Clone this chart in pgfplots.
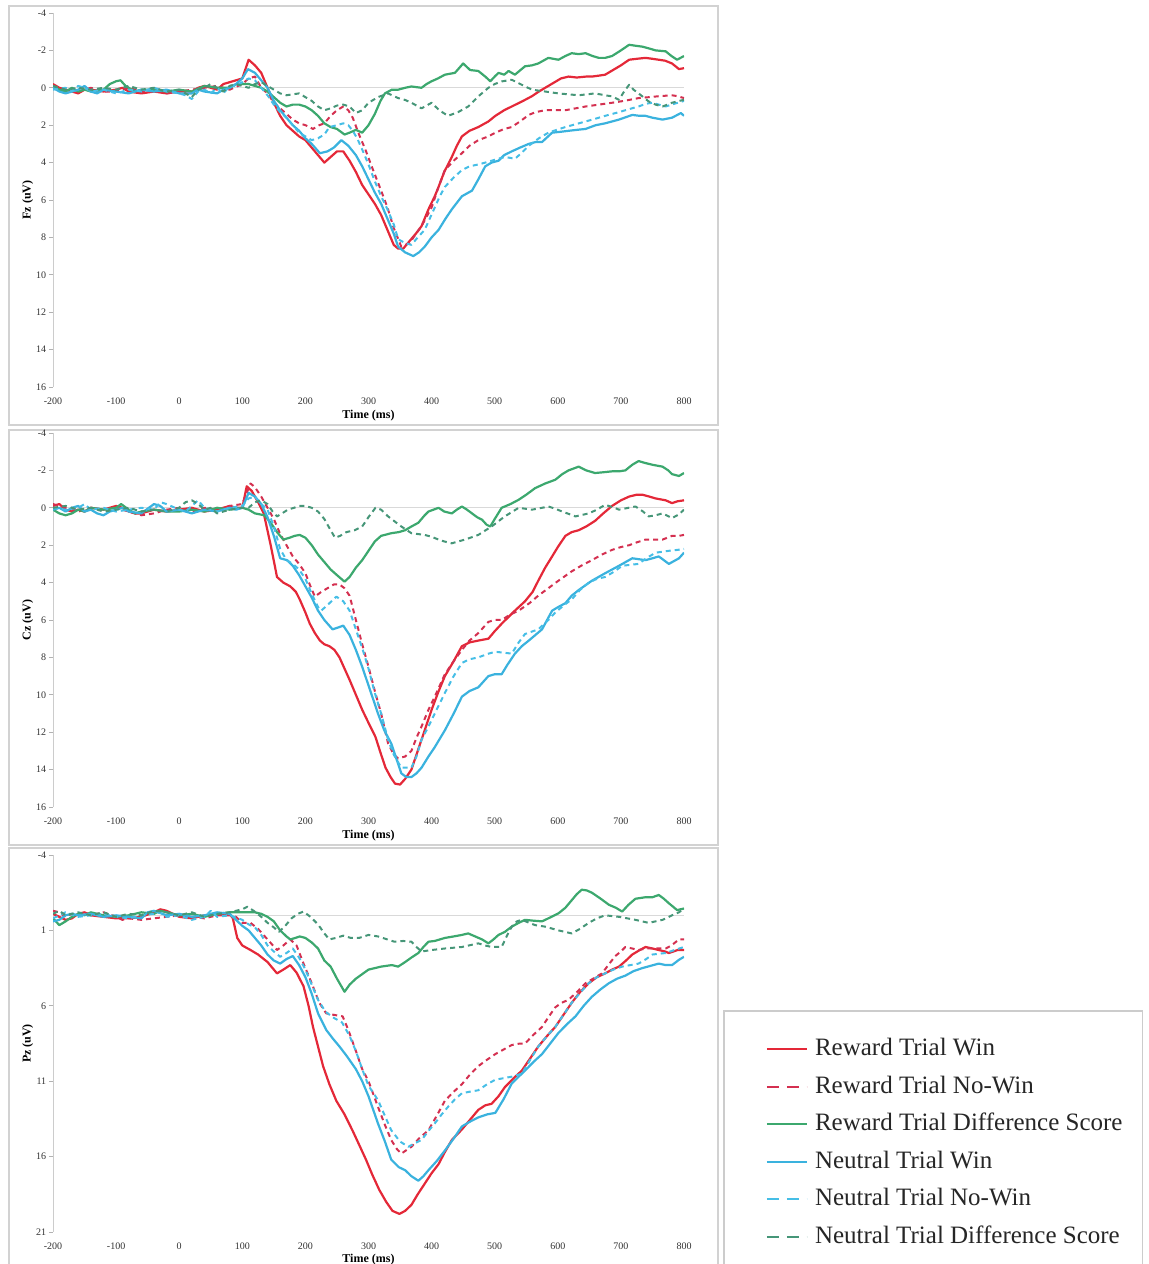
\documentclass[border=0pt]{standalone}
\usepackage{fontspec}
\setmainfont{Liberation Serif}
\usepackage{pgfplots}
\pgfplotsset{compat=1.18}
\definecolor{cRW}{RGB}{228,40,56}
\definecolor{cRNW}{RGB}{212,48,80}
\definecolor{cRD}{RGB}{60,168,110}
\definecolor{cNW}{RGB}{58,178,222}
\definecolor{cNNW}{RGB}{70,190,230}
\definecolor{cND}{RGB}{70,150,120}
\pgfplotsset{
  erp/.style={
    scale only axis, width=315.5pt,
    xmin=-200, xmax=800, xtick={-200,-100,...,800},
    y dir=reverse,
    axis line style={draw=none},
    tick align=outside,
    ytick pos=left,
    x tick style={draw=none},
    y tick style={gray!60, line width=0.4pt},
    major tick length=2pt,
    tick label style={font=\fontsize{5}{6}\selectfont, text=black!80},
    yticklabel style={inner sep=1.2pt},
    /pgf/number format/assume math mode=true,
    xlabel={Time (ms)},
    xlabel style={font=\bfseries\fontsize{6}{7}\selectfont, anchor=center},
    ylabel style={font=\bfseries\fontsize{6}{7}\selectfont, at={(axis description cs:-0.04,0.5)}, anchor=center},
    every axis plot/.append style={line join=round},
  },
  dashleg/.style={legend image post style={dash pattern=on 6pt off 4pt}},
  sRW/.style={cRW, line width=1.1pt},
  sRNW/.style={cRNW, line width=1pt, dash pattern=on 2.5pt off 2pt, dashleg},
  sRD/.style={cRD, line width=1.1pt},
  sNW/.style={cNW, line width=1.1pt},
  sNNW/.style={cNNW, line width=1pt, dash pattern=on 2.5pt off 2pt, dashleg},
  sND/.style={cND, line width=1pt, dash pattern=on 2.5pt off 2pt, dashleg},
}
\begin{document}
\begin{tikzpicture}[x=1pt,y=1pt]
\path[use as bounding box] (0,0) rectangle (574,632);
\draw[gray!35, line width=1pt] (4.5,629) rectangle (359,419.5);
\draw[gray!35, line width=1pt] (4.5,417) rectangle (359,209.5);
\draw[gray!35, line width=1pt] (4.5,208) rectangle (359,-3);

% ---------------- Fz ----------------
\begin{axis}[erp, at={(26.5pt,438.5pt)}, anchor=south west, height=187pt,
  ymin=-4, ymax=16, ytick={-4,-2,...,16}, ylabel={Fz (uV)},
  xlabel style={at={(axis description cs:0.5,-0.0775)}}]
\addplot[gray!30, line width=0.6pt, forget plot] coordinates {(-200,0)(800,0)};
\draw[gray!40, line width=0.5pt] (axis cs:-200,-4) -- (axis cs:-200,16);
\addplot[sRW] coordinates {(-200,-0.2)(-190,0.0)(-180,0.1)(-170,0.2)(-160,0.3)(-150,0.1)(-140,0.1)(-120,0.2)(-100,0.1)(-90,0.0)(-80,0.2)(-60,0.3)(-40,0.2)(-20,0.3)(0,0.2)(20,0.2)(30,0.0)(40,-0.1)(50,0.0)(60,0.1)(70,-0.2)(80,-0.3)(90,-0.4)(100,-0.5)(105,-1.0)(110,-1.5)(120,-1.2)(130,-0.8)(140,0.0)(150,0.8)(160,1.5)(170,2.0)(180,2.3)(190,2.6)(200,2.8)(210,3.2)(220,3.6)(230,4.0)(240,3.7)(250,3.4)(260,3.4)(270,3.9)(280,4.5)(290,5.2)(300,5.7)(310,6.2)(320,6.8)(330,7.6)(340,8.4)(347,8.6)(355,8.6)(365,8.2)(375,7.8)(384,7.4)(395,6.5)(405,5.8)(411,5.3)(420,4.5)(432,3.7)(440,3.1)(448,2.6)(460,2.3)(474,2.1)(490,1.8)(501,1.5)(515,1.2)(527,1.0)(545,0.7)(559,0.45)(570,0.2)(580,0.0)(595,-0.3)(605,-0.5)(617,-0.6)(630,-0.55)(645,-0.6)(654,-0.6)(665,-0.65)(675,-0.7)(690,-1.0)(700,-1.2)(713,-1.5)(725,-1.55)(739,-1.6)(750,-1.55)(760,-1.5)(770,-1.45)(781,-1.3)(792,-1.0)(800,-1.05)};
\addplot[sRNW] coordinates {(-200,-0.1)(-180,0.1)(-160,0.2)(-140,0.0)(-120,0.2)(-100,0.2)(-80,0.0)(-60,0.2)(-40,0.1)(-20,0.3)(0,0.2)(20,0.1)(40,0.0)(60,-0.1)(80,0.1)(100,-0.2)(110,-0.5)(120,-0.6)(130,0.0)(140,0.3)(150,0.8)(160,1.1)(170,1.4)(180,1.7)(190,1.9)(200,2.0)(212,2.2)(222,2.0)(230,1.9)(240,1.5)(250,1.2)(260,1.0)(268,1.2)(275,1.6)(285,2.5)(295,3.3)(305,4.2)(320,5.5)(330,6.4)(340,7.5)(352,8.5)(365,8.3)(384,7.4)(400,6.4)(410,5.4)(421,4.4)(435,3.9)(448,3.5)(460,3.1)(474,2.8)(490,2.6)(501,2.4)(515,2.2)(527,2.1)(540,1.8)(554,1.45)(565,1.3)(580,1.2)(595,1.2)(612,1.2)(628,1.1)(644,1.0)(665,0.9)(686,0.8)(705,0.7)(728,0.55)(745,0.5)(760,0.45)(781,0.4)(790,0.45)(800,0.55)};
\addplot[sRD] coordinates {(-200,-0.1)(-190,0.1)(-180,0.2)(-170,0.0)(-160,0.2)(-150,0.1)(-140,0.2)(-120,0.1)(-110,-0.2)(-100,-0.35)(-93,-0.4)(-85,-0.1)(-70,0.2)(-60,0.1)(-40,0.1)(-20,0.2)(0,0.1)(20,0.2)(40,-0.1)(60,0.0)(80,0.0)(90,-0.2)(100,-0.2)(110,-0.2)(120,-0.1)(130,0.0)(140,0.2)(150,0.5)(160,0.8)(170,1.0)(180,0.9)(190,0.9)(200,1.0)(210,1.2)(220,1.5)(230,1.9)(240,2.1)(250,2.2)(262,2.5)(270,2.4)(280,2.25)(290,2.4)(300,2.0)(310,1.4)(319,0.7)(326,0.3)(337,0.1)(347,0.1)(358,0.0)(368,-0.07)(384,0.0)(392,-0.2)(400,-0.35)(410,-0.5)(421,-0.7)(437,-0.8)(450,-1.3)(461,-0.95)(474,-0.9)(485,-0.6)(493,-0.35)(500,-0.6)(506,-0.8)(515,-0.7)(522,-0.9)(532,-0.7)(548,-1.15)(559,-1.2)(569,-1.3)(585,-1.6)(601,-1.5)(612,-1.7)(622,-1.85)(633,-1.8)(644,-1.85)(655,-1.7)(665,-1.6)(675,-1.6)(686,-1.7)(700,-2.0)(713,-2.3)(723,-2.25)(734,-2.2)(745,-2.1)(755,-2.0)(771,-1.95)(780,-1.7)(789,-1.5)(800,-1.7)};
\addplot[sNW] coordinates {(-200,0.0)(-190,0.2)(-180,0.3)(-170,0.2)(-160,0.1)(-150,-0.1)(-140,0.2)(-130,0.3)(-120,0.1)(-100,0.2)(-80,0.3)(-60,0.1)(-40,0.2)(-20,0.1)(0,0.3)(20,0.3)(30,0.1)(40,0.2)(60,0.3)(70,0.1)(80,0.0)(90,-0.2)(100,-0.5)(109,-1.0)(120,-0.8)(130,-0.4)(140,0.0)(150,0.7)(160,1.2)(170,1.6)(180,2.0)(190,2.3)(200,2.7)(210,3.0)(223,3.5)(235,3.4)(245,3.2)(257,2.8)(268,3.1)(280,3.6)(290,4.2)(300,4.9)(310,5.6)(320,6.2)(330,7.0)(340,7.8)(347,8.5)(358,8.8)(371,9.0)(380,8.8)(389,8.5)(400,8.0)(411,7.6)(422,7.0)(432,6.5)(448,5.8)(464,5.5)(474,4.9)(485,4.2)(495,4.0)(506,3.9)(515,3.6)(527,3.4)(540,3.2)(554,3.0)(565,2.9)(575,2.9)(591,2.4)(605,2.35)(617,2.3)(630,2.25)(644,2.2)(660,2.0)(675,1.9)(697,1.7)(718,1.45)(730,1.5)(739,1.5)(750,1.6)(766,1.7)(781,1.6)(795,1.35)(800,1.5)};
\addplot[sNNW] coordinates {(-200,0.1)(-180,0.0)(-170,0.2)(-160,-0.1)(-150,0.0)(-140,0.2)(-120,0.1)(-100,0.3)(-80,0.1)(-60,0.2)(-40,0.0)(-20,0.2)(0,0.3)(10,0.4)(20,0.6)(30,0.2)(40,0.1)(50,0.3)(60,0.0)(70,0.3)(80,-0.1)(90,-0.1)(100,-0.3)(110,-0.5)(120,-0.4)(130,0.0)(140,0.4)(150,0.9)(160,1.3)(170,1.6)(180,2.0)(190,2.4)(200,2.6)(210,2.8)(220,2.7)(230,2.5)(238,2.1)(250,2.0)(260,1.9)(268,2.0)(275,2.3)(282,2.7)(290,3.3)(300,4.1)(310,5.0)(320,5.8)(330,6.5)(340,7.3)(347,8.1)(358,8.3)(368,8.4)(378,8.0)(389,7.6)(397,7.0)(405,6.4)(413,5.8)(421,5.3)(435,4.8)(448,4.4)(460,4.2)(474,4.1)(485,4.0)(495,3.9)(505,3.8)(516,3.7)(525,3.75)(532,3.8)(542,3.5)(554,3.1)(570,2.7)(585,2.4)(598,2.25)(612,2.1)(628,1.95)(644,1.8)(660,1.65)(675,1.5)(697,1.3)(712,1.15)(728,1.0)(740,0.85)(750,0.8)(760,0.9)(771,1.0)(785,0.85)(800,0.7)};
\addplot[sND] coordinates {(-200,-0.1)(-180,0.1)(-160,0.0)(-140,0.1)(-120,0.0)(-100,0.1)(-80,-0.1)(-60,0.1)(-40,0.0)(-20,0.2)(0,0.1)(10,0.3)(20,0.5)(30,0.1)(40,0.0)(50,-0.2)(60,0.0)(70,0.2)(80,-0.1)(90,-0.2)(100,-0.1)(110,0.0)(120,-0.2)(130,-0.3)(140,-0.1)(150,0.1)(160,0.3)(170,0.4)(180,0.35)(190,0.3)(200,0.5)(210,0.7)(220,1.0)(230,1.2)(240,1.1)(250,0.95)(260,0.9)(270,1.0)(280,1.35)(290,1.2)(300,0.8)(315,0.5)(331,0.3)(347,0.55)(358,0.65)(368,0.8)(384,1.1)(400,0.8)(412,1.2)(426,1.5)(442,1.3)(458,1.0)(474,0.46)(490,0.0)(500,-0.2)(511,-0.34)(527,-0.43)(543,-0.16)(559,0.1)(580,0.2)(601,0.3)(617,0.35)(633,0.4)(659,0.3)(675,0.4)(686,0.46)(697,0.64)(705,0.2)(713,-0.16)(720,0.1)(728,0.3)(744,0.73)(755,0.9)(766,1.0)(781,0.8)(800,0.64)};
\end{axis}

% ---------------- Cz ----------------
\begin{axis}[erp, at={(26.5pt,228.5pt)}, anchor=south west, height=187pt,
  ymin=-4, ymax=16, ytick={-4,-2,...,16}, ylabel={Cz (uV)},
  xlabel style={at={(axis description cs:0.5,-0.0775)}}]
\addplot[gray!30, line width=0.6pt, forget plot] coordinates {(-200,0)(800,0)};
\draw[gray!40, line width=0.5pt] (axis cs:-200,-4) -- (axis cs:-200,16);
\addplot[sRW] coordinates {(-200,-0.1)(-190,-0.2)(-180,0.1)(-170,0.2)(-160,0.1)(-150,0.2)(-140,0.0)(-120,0.1)(-100,-0.1)(-90,0.0)(-80,0.2)(-70,0.3)(-60,0.3)(-50,0.2)(-40,0.1)(-20,0.2)(0,0.1)(20,0.0)(40,0.2)(60,0.1)(80,-0.1)(90,0.0)(100,0.0)(107,-1.15)(115,-0.9)(125,-0.3)(134,0.3)(145,2.0)(155,3.7)(165,4.0)(176,4.2)(185,4.5)(191,4.9)(200,5.6)(207,6.2)(215,6.7)(223,7.1)(230,7.3)(238,7.4)(246,7.6)(254,8.0)(262,8.6)(270,9.2)(280,10.0)(290,10.8)(300,11.5)(311,12.25)(320,13.2)(327,13.9)(335,14.4)(342,14.75)(350,14.8)(358,14.5)(368,14.0)(376,13.2)(384,12.4)(392,11.6)(400,10.8)(410,9.9)(421,9.0)(435,8.2)(448,7.4)(460,7.2)(474,7.1)(490,7.0)(500,6.6)(511,6.2)(520,5.9)(532,5.5)(548,5.0)(560,4.5)(569,3.9)(580,3.2)(591,2.6)(600,2.1)(612,1.5)(622,1.3)(633,1.2)(645,1.0)(659,0.7)(672,0.3)(686,-0.1)(700,-0.4)(713,-0.6)(725,-0.7)(734,-0.7)(745,-0.6)(755,-0.5)(771,-0.4)(781,-0.25)(790,-0.35)(800,-0.4)};
\addplot[sRNW] coordinates {(-200,-0.2)(-180,0.0)(-160,0.2)(-140,0.0)(-120,0.1)(-100,0.0)(-80,0.2)(-60,0.4)(-40,0.3)(-20,0.1)(0,0.0)(20,0.2)(40,0.0)(60,0.1)(80,-0.1)(100,-0.2)(113,-1.3)(120,-1.1)(130,-0.6)(140,0.0)(150,0.6)(160,1.4)(170,2.0)(180,2.6)(190,3.0)(200,3.5)(208,4.2)(215,4.75)(225,4.5)(235,4.3)(245,4.1)(254,4.1)(262,4.3)(270,4.7)(280,6.0)(290,7.3)(300,8.5)(310,9.8)(320,11.0)(331,12.6)(340,13.2)(347,13.4)(358,13.3)(368,13.0)(376,12.3)(384,11.7)(395,10.8)(405,10.1)(421,8.9)(435,8.2)(448,7.6)(460,7.1)(474,6.7)(490,6.1)(500,6.0)(511,6.0)(525,5.7)(538,5.5)(555,5.1)(569,4.7)(585,4.3)(601,3.9)(622,3.4)(637,3.1)(654,2.8)(670,2.5)(686,2.25)(700,2.1)(713,2.0)(725,1.85)(739,1.7)(750,1.7)(766,1.7)(781,1.5)(792,1.5)(800,1.45)};
\addplot[sRD] coordinates {(-200,0.1)(-190,0.3)(-180,0.4)(-170,0.3)(-160,0.1)(-150,0.2)(-140,0.0)(-120,0.1)(-100,0.0)(-92,-0.2)(-80,0.1)(-70,0.3)(-60,0.2)(-40,0.1)(-20,0.2)(0,0.2)(20,0.1)(40,0.2)(60,0.0)(80,0.1)(100,0.0)(110,0.1)(120,0.3)(135,0.4)(145,0.8)(155,1.3)(165,1.7)(175,1.6)(183,1.5)(191,1.45)(200,1.6)(210,2.0)(220,2.5)(230,2.9)(240,3.3)(250,3.6)(262,3.95)(270,3.7)(280,3.2)(290,2.8)(300,2.3)(310,1.8)(320,1.5)(336,1.36)(348,1.3)(358,1.2)(368,1.0)(379,0.8)(389,0.4)(395,0.2)(411,0.0)(420,0.2)(432,0.3)(440,0.1)(448,-0.07)(456,0.1)(464,0.3)(472,0.5)(480,0.64)(487,0.9)(493,1.0)(500,0.6)(511,0.0)(525,-0.2)(538,-0.43)(550,-0.7)(564,-1.05)(580,-1.3)(596,-1.5)(607,-1.8)(617,-2.0)(633,-2.2)(645,-2.0)(659,-1.86)(672,-1.9)(686,-1.95)(697,-1.95)(707,-2.0)(718,-2.3)(728,-2.5)(738,-2.4)(750,-2.3)(766,-2.2)(775,-2.0)(781,-1.8)(792,-1.7)(800,-1.86)};
\addplot[sNW] coordinates {(-200,0.1)(-190,0.0)(-180,0.2)(-170,0.0)(-160,-0.1)(-150,0.2)(-140,0.1)(-130,0.3)(-120,0.4)(-110,0.2)(-100,0.1)(-90,0.0)(-80,0.2)(-60,0.3)(-40,-0.2)(-30,-0.1)(-20,0.2)(0,0.1)(20,0.3)(40,0.1)(60,0.2)(80,0.0)(90,0.1)(100,0.0)(110,-0.8)(120,-0.6)(130,-0.2)(140,0.5)(150,1.5)(160,2.7)(171,2.8)(180,3.1)(190,3.6)(200,4.2)(210,4.8)(220,5.5)(230,6.0)(243,6.5)(252,6.4)(260,6.3)(270,6.8)(280,7.6)(290,8.5)(300,9.5)(315,11.0)(325,11.9)(336,12.6)(344,13.4)(352,14.2)(360,14.4)(368,14.4)(376,14.2)(384,13.9)(395,13.3)(405,12.8)(421,11.9)(435,11.0)(448,10.1)(460,9.8)(474,9.6)(490,9.0)(500,8.9)(511,8.9)(520,8.4)(532,7.8)(543,7.4)(554,7.1)(575,6.5)(591,5.5)(601,5.3)(612,5.1)(622,4.7)(633,4.4)(654,3.9)(675,3.5)(697,3.1)(718,2.7)(739,2.8)(750,2.7)(760,2.6)(776,3.0)(792,2.7)(800,2.4)};
\addplot[sNNW] coordinates {(-200,0.0)(-180,0.1)(-160,0.0)(-150,-0.2)(-140,0.1)(-120,0.0)(-100,0.2)(-80,0.1)(-60,0.0)(-40,0.1)(-30,-0.3)(-20,-0.2)(0,0.1)(10,0.2)(20,-0.1)(30,-0.4)(40,0.0)(60,0.2)(80,0.0)(100,-0.1)(110,-0.5)(120,-0.6)(130,-0.2)(140,0.1)(150,1.0)(160,2.2)(170,2.8)(180,3.0)(190,3.3)(200,3.8)(210,4.6)(220,5.3)(225,5.5)(235,5.2)(249,4.75)(260,5.0)(270,5.5)(280,6.5)(290,7.5)(300,8.6)(310,9.9)(320,11.0)(331,12.4)(340,13.2)(352,13.9)(368,13.9)(376,13.3)(384,12.4)(395,11.7)(405,11.0)(421,9.9)(435,9.0)(448,8.3)(460,8.1)(474,8.0)(490,7.8)(501,7.7)(515,7.75)(527,7.8)(538,7.2)(548,6.75)(569,6.5)(585,6.0)(596,5.6)(610,5.2)(622,4.9)(635,4.4)(649,4.0)(662,3.8)(675,3.7)(690,3.4)(702,3.1)(715,3.05)(728,3.0)(740,2.7)(755,2.4)(766,2.35)(776,2.3)(790,2.25)(800,2.2)};
\addplot[sND] coordinates {(-200,0.0)(-180,-0.1)(-160,0.1)(-140,0.0)(-120,0.2)(-100,0.1)(-80,0.0)(-60,0.2)(-40,0.1)(-20,0.2)(0,0.0)(10,-0.3)(20,-0.4)(30,-0.2)(40,0.1)(50,0.0)(60,0.3)(80,0.1)(100,0.0)(110,0.0)(120,-0.3)(130,-0.4)(140,-0.2)(148,0.2)(155,0.46)(163,0.3)(172,0.1)(182,0.0)(190,-0.1)(200,-0.1)(210,0.0)(220,0.2)(230,0.6)(240,1.2)(247,1.6)(255,1.5)(265,1.3)(278,1.2)(290,1.0)(300,0.5)(311,0.0)(320,0.1)(331,0.46)(352,1.0)(368,1.36)(389,1.45)(400,1.55)(411,1.7)(420,1.8)(432,1.9)(442,1.8)(453,1.7)(474,1.45)(495,1.0)(516,0.46)(538,0.0)(559,0.1)(575,0.0)(585,-0.07)(596,0.05)(607,0.2)(628,0.46)(649,0.3)(662,0.1)(675,-0.16)(690,0.0)(697,0.1)(712,0.0)(723,-0.07)(735,0.2)(744,0.46)(755,0.4)(766,0.3)(781,0.55)(792,0.35)(800,0.1)};
\end{axis}

% ---------------- Pz ----------------
\begin{axis}[erp, at={(26.5pt,16pt)}, anchor=south west, height=188.5pt,
  ymin=-4, ymax=21, ytick={-4,1,6,11,16,21}, ylabel={Pz (uV)},
  xlabel style={at={(axis description cs:0.5,-0.072)}},
  legend style={at={(axis description cs:1.0618,0.5889)}, anchor=north west,
    draw=gray!40, line width=0.8pt, fill=white,
    inner xsep=10pt, inner ysep=13.5pt,
    font=\fontsize{12.5}{14}\selectfont, text=black!85,
    nodes={inner sep=0pt, text height=9pt, text depth=2.5pt},
    row sep=7.25pt,
    /tikz/every odd column/.append style={column sep=3.5pt}},
  legend cell align=left,
  legend image code/.code={\path (0pt,0pt); \draw[#1] (11pt,0pt) -- (31pt,0pt);}]
\addplot[gray!30, line width=0.6pt, forget plot] coordinates {(-200,0)(800,0)};
\draw[gray!40, line width=0.5pt] (axis cs:-200,-4) -- (axis cs:-200,21);
\addplot[sRW] coordinates {(-200,-0.1)(-190,0.1)(-180,0.3)(-170,0.2)(-160,-0.1)(-150,-0.2)(-140,0.0)(-120,0.1)(-100,0.2)(-80,0.2)(-60,0.1)(-40,-0.2)(-30,-0.4)(-20,-0.3)(0,0.1)(20,0.2)(40,0.0)(60,-0.1)(80,-0.1)(85,0.2)(92,1.5)(100,2.0)(113,2.3)(125,2.6)(140,3.1)(155,3.85)(165,3.6)(176,3.3)(186,3.8)(197,4.7)(205,6.0)(212,7.4)(220,8.7)(228,10.0)(238,11.2)(249,12.3)(262,13.2)(275,14.3)(285,15.2)(296,16.2)(306,17.2)(317,18.2)(328,19.0)(338,19.6)(349,19.8)(358,19.6)(368,19.2)(378,18.5)(389,17.8)(400,17.1)(411,16.5)(421,15.7)(432,14.9)(448,14.2)(460,13.6)(474,12.9)(485,12.6)(495,12.5)(506,12.0)(516,11.4)(530,10.8)(543,10.3)(556,9.5)(569,8.7)(583,8.0)(596,7.4)(609,6.6)(622,5.8)(635,5.1)(649,4.5)(662,4.1)(675,3.85)(686,3.6)(697,3.4)(708,3.0)(718,2.6)(730,2.3)(739,2.1)(750,2.2)(760,2.3)(770,2.4)(776,2.5)(790,2.3)(800,2.3)};
\addlegendentry{Reward Trial Win}
\addplot[sRNW] coordinates {(-200,-0.3)(-190,-0.2)(-180,0.1)(-170,-0.1)(-160,0.0)(-150,-0.2)(-140,0.0)(-120,-0.2)(-100,0.1)(-90,0.3)(-80,0.2)(-60,0.3)(-40,0.2)(-20,0.1)(0,0.0)(20,0.1)(40,0.2)(60,0.0)(80,0.0)(90,0.1)(100,0.5)(113,0.5)(125,0.9)(140,1.6)(155,2.3)(165,2.0)(176,1.6)(186,2.0)(197,3.2)(210,4.5)(222,5.8)(233,6.5)(245,6.6)(259,6.7)(268,7.6)(280,9.0)(290,10.2)(300,11.0)(315,12.7)(326,13.9)(336,14.9)(345,15.5)(352,15.8)(368,15.35)(380,14.8)(395,14.25)(408,13.3)(421,12.3)(435,11.7)(448,11.2)(460,10.6)(474,10.0)(487,9.6)(501,9.2)(514,8.9)(527,8.6)(540,8.5)(548,8.5)(562,7.9)(575,7.4)(586,6.7)(596,6.1)(606,5.8)(617,5.6)(630,5.1)(644,4.5)(656,4.2)(670,3.85)(680,3.3)(691,2.7)(700,2.4)(707,2.1)(718,2.2)(728,2.3)(740,2.2)(750,2.2)(771,2.2)(780,2.0)(792,1.6)(800,1.6)};
\addlegendentry{Reward Trial No-Win}
\addplot[sRD] coordinates {(-200,0.2)(-190,0.65)(-180,0.4)(-170,0.1)(-160,-0.1)(-150,0.0)(-140,-0.2)(-120,0.0)(-100,0.1)(-80,0.0)(-60,-0.2)(-40,-0.1)(-30,-0.3)(-20,-0.2)(0,0.0)(20,-0.1)(40,0.1)(60,-0.1)(80,-0.2)(100,-0.2)(120,-0.2)(130,-0.1)(140,0.1)(150,0.4)(160,1.0)(170,1.4)(176,1.6)(184,1.5)(191,1.4)(200,1.5)(210,1.8)(220,2.2)(230,3.0)(240,3.4)(250,4.2)(262,5.07)(270,4.6)(280,4.2)(290,3.9)(300,3.6)(310,3.5)(320,3.4)(337,3.3)(347,3.4)(358,3.1)(368,2.8)(379,2.5)(387,2.1)(395,1.75)(405,1.7)(421,1.5)(435,1.4)(448,1.3)(458,1.2)(469,1.4)(480,1.6)(490,1.86)(498,1.6)(506,1.3)(516,1.1)(527,0.75)(538,0.5)(548,0.3)(560,0.35)(575,0.4)(590,0.1)(601,-0.13)(612,-0.5)(622,-1.0)(630,-1.4)(638,-1.7)(646,-1.65)(654,-1.5)(668,-1.1)(681,-0.7)(692,-0.5)(702,-0.25)(712,-0.7)(723,-1.1)(739,-1.2)(750,-1.2)(760,-1.35)(768,-1.1)(776,-0.8)(789,-0.35)(800,-0.45)};
\addlegendentry{Reward Trial Difference Score}
\addplot[sNW] coordinates {(-200,0.4)(-190,0.3)(-180,0.0)(-170,-0.1)(-160,0.0)(-140,-0.1)(-120,0.1)(-100,0.0)(-80,0.1)(-60,0.2)(-50,-0.2)(-40,-0.3)(-20,0.0)(0,-0.1)(20,0.1)(40,0.0)(60,-0.2)(80,-0.1)(90,0.3)(100,0.7)(110,1.0)(120,1.5)(130,2.0)(140,2.6)(150,3.0)(160,3.2)(170,2.9)(180,2.7)(190,3.3)(200,4.1)(210,5.2)(220,6.5)(233,7.6)(244,8.2)(254,8.7)(265,9.3)(280,10.2)(290,11.0)(300,12.0)(315,13.8)(326,15.0)(336,16.2)(348,16.7)(358,16.9)(368,17.3)(379,17.6)(387,17.3)(395,16.9)(408,16.3)(421,15.6)(435,14.8)(448,14.0)(460,13.7)(474,13.4)(488,13.2)(501,13.1)(514,12.2)(527,11.15)(538,10.7)(548,10.3)(562,9.7)(575,9.2)(588,8.5)(601,7.8)(615,7.2)(628,6.7)(641,6.0)(654,5.4)(668,4.9)(681,4.5)(694,4.2)(707,4.0)(720,3.7)(734,3.5)(747,3.35)(760,3.2)(771,3.3)(781,3.3)(792,2.95)(800,2.75)};
\addlegendentry{Neutral Trial Win}
\addplot[sNNW] coordinates {(-200,0.2)(-190,0.0)(-180,-0.2)(-160,0.1)(-140,0.0)(-120,-0.1)(-100,0.1)(-80,0.2)(-60,0.0)(-40,-0.1)(-30,-0.2)(-20,0.1)(0,0.0)(20,0.3)(40,0.1)(50,-0.3)(60,0.1)(80,0.0)(100,0.3)(110,0.6)(120,0.8)(130,1.3)(140,2.0)(150,2.4)(160,2.75)(170,2.5)(180,2.2)(190,2.8)(200,3.6)(210,4.6)(220,5.6)(232,6.4)(245,6.8)(258,7.1)(270,8.0)(280,9.0)(290,10.2)(300,11.3)(315,12.25)(326,13.3)(336,14.25)(350,15.0)(363,15.35)(374,15.1)(384,14.9)(395,14.3)(405,13.8)(416,13.2)(426,12.7)(437,12.2)(448,11.8)(460,11.7)(474,11.6)(488,11.2)(501,10.9)(514,10.8)(527,10.7)(543,10.5)(556,9.6)(569,8.7)(583,8.0)(596,7.4)(609,6.6)(622,5.8)(636,5.1)(649,4.5)(662,4.1)(675,3.85)(688,3.6)(702,3.4)(715,3.3)(728,3.2)(740,2.9)(750,2.6)(760,2.55)(771,2.5)(785,2.3)(800,2.1)};
\addlegendentry{Neutral Trial No-Win}
\addplot[sND] coordinates {(-200,-0.1)(-190,-0.3)(-180,0.0)(-160,-0.2)(-140,0.0)(-120,-0.2)(-100,0.1)(-80,-0.1)(-60,0.0)(-40,-0.3)(-20,-0.2)(0,0.0)(20,-0.2)(40,0.1)(60,-0.1)(80,-0.2)(90,-0.3)(100,-0.4)(108,-0.57)(118,-0.3)(130,0.1)(140,0.5)(150,0.8)(158,1.1)(168,0.7)(178,0.2)(188,-0.1)(197,-0.25)(208,0.1)(220,0.6)(230,1.2)(238,1.6)(248,1.5)(260,1.35)(272,1.5)(285,1.5)(300,1.3)(315,1.4)(330,1.6)(341,1.75)(355,1.7)(368,1.75)(376,2.1)(384,2.4)(400,2.3)(421,2.2)(448,2.1)(474,1.86)(485,2.0)(495,2.1)(511,2.1)(520,1.3)(527,0.75)(535,0.4)(543,0.3)(564,0.65)(580,0.75)(601,1.0)(622,1.2)(635,0.9)(649,0.5)(662,0.2)(675,0.0)(697,0.1)(723,0.3)(744,0.5)(755,0.4)(766,0.3)(781,0.0)(792,-0.2)(800,-0.45)};
\addlegendentry{Neutral Trial Difference Score}
\end{axis}
\end{tikzpicture}
\end{document}
